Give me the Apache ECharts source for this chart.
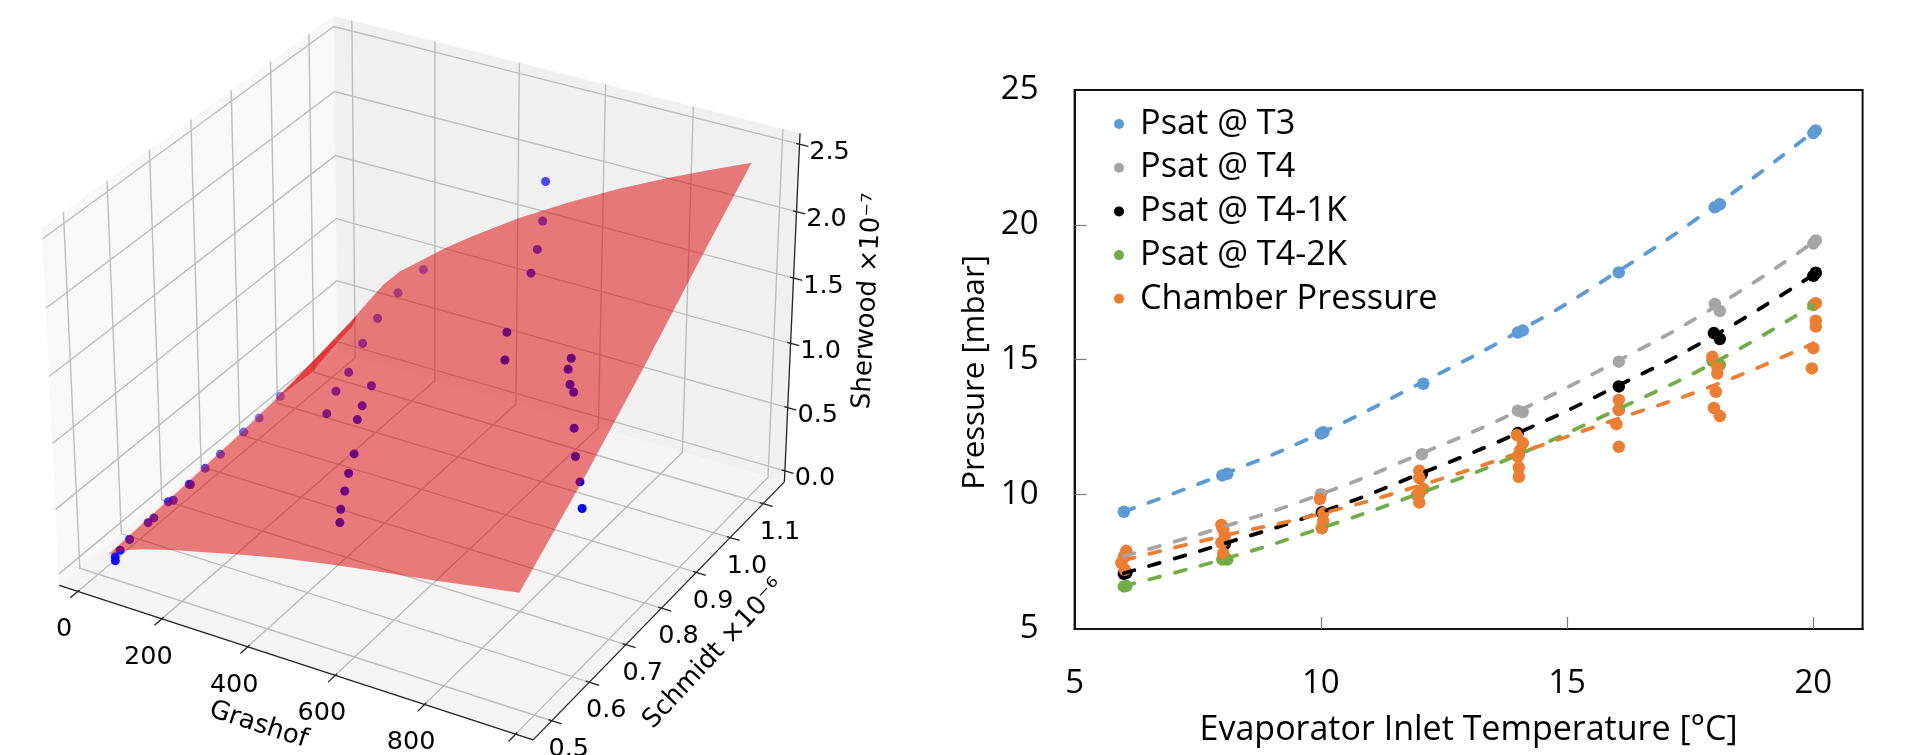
<!DOCTYPE html>
<html><head><meta charset="utf-8"><style>html,body{margin:0;background:#fff}#c{width:1915px;height:755px}</style>
<script src="https://cdn.jsdelivr.net/npm/echarts@6/dist/echarts.min.js"></script></head><body><div id="c"></div>
<script>
const evapT3=[[6,9.35],[8,10.7],[8.1,10.76],[10,12.25],[10.05,12.3],[12.08,14.1],[14,16],[14.1,16.08],[16.05,18.23],[18,20.65],[18.1,20.76],[20,23.4],[20.05,23.5]];
const evapT4=[[6,7.7],[8,8.78],[10,10],[12.05,11.48],[14,13.1],[14.1,13.05],[16.05,14.92],[18,17.06],[18.1,16.8],[20,19.3],[20.05,19.42]];
const evapT41=[[6,7.05],[6.05,7.08],[8.05,8.15],[10.02,9.33],[12.05,10.75],[14,12.27],[16.05,14],[17.98,15.98],[18.1,15.76],[20,18.1],[20.05,18.22]];
const evapT42=[[6,6.58],[6.05,6.6],[8,7.58],[8.1,7.58],[10.02,8.74],[12,10.03],[14.02,11.46],[16.05,13.13],[17.95,14.95],[18.1,14.8],[20,17.02]];
const evapChamber=[[6.05,7.9],[6,7.65],[5.95,7.45],[6.02,7.2],[7.98,8.86],[8.02,8.68],[8.05,8.45],[7.98,8.2],[8.02,7.8],[9.98,9.82],[10.05,9.3],[10.05,9.0],[10.02,8.75],[12,10.87],[12,10.6],[12.08,10.2],[11.95,9.97],[12,9.69],[13.98,12.2],[14.1,11.9],[14.05,11.64],[14,11.4],[14.02,11],[14.02,10.65],[16.05,13.5],[16.05,13.13],[16,12.6],[16.05,11.76],[17.95,15.1],[18.05,14.73],[18.05,14.48],[18.02,13.8],[17.98,13.2],[18.1,12.9],[20.05,17.09],[20.05,16.44],[20.05,16.22],[20,15.42],[19.97,14.67]];
const fitX=[6,8,10,12,14,16,18,20];
const fitT3=[9.35,10.73,12.27,14.1,16.03,18.23,20.7,23.45];
const fitT4=[7.7,8.78,10,11.48,13.08,14.92,16.95,19.35];
const fitT41=[7.07,8.15,9.33,10.75,12.27,14,15.9,18.15];
const fitT42=[6.6,7.58,8.74,10.03,11.46,13.13,14.9,17.02];
const fitChamber=[7.55,8.45,9.28,10.32,11.52,12.78,14.05,15.6];
const legendNames=['Psat @ T3','Psat @ T4','Psat @ T4-1K','Psat @ T4-2K','Chamber Pressure'];
const grashofTicks=[0,200,400,600,800,1000];
const grashofLabels=['0','200','400','600','800'];
const schmidtTicks=[0.5,0.6,0.7,0.8,0.9,1.0,1.1];
const sherwoodTicks=[0,0.5,1,1.5,2,2.5];
const gridGr=[40,85,125,165,205,270,335,450,565,680,790,880,975];
const gridSc=[0.487,0.664,0.811,0.956,1.109];
const gridSh=[
[.14,.224,.272,.31,.347,.40,.454,.54,.611,.675,.731,.782,.835],
[.18,.32,.40,.46,.51,.60,.67,.81,.92,1.02,1.10,1.18,1.25],
[.22,.405,.517,.605,.675,.785,.887,1.05,1.20,1.33,1.45,1.54,1.63],
[.28,.49,.63,.75,.83,.97,1.10,1.30,1.48,1.65,1.79,1.905,2.03],
[.375,.585,.763,.90,1.002,1.17,1.32,1.568,1.787,1.99,2.165,2.30,2.436]];
const foldEdge=[[40,.906,.26],[40,.999,.31],[40,1.062,.35],[40,1.128,.39],[40,1.114,.33],[40,1.072,.30],[40,1.004,.23]];
const samples=[[276,.846,.85],[248,.914,.88],[232,.972,.92],[228,1.032,.97],[254,1.072,1.08],[282,.806,.81],[304,.758,.78],[368,.804,.94],
[382,.764,.90],[396,.736,.88],[448,.670,.84],[466,.636,.80],[486,.604,.77],[504,.574,.73],[520,.554,.70],[526,1.084,1.67],
[562,1.026,1.62],[586,.980,1.57],[620,.874,1.41],[658,.824,1.36],[808,.822,1.52],[816,.804,1.49],[840,.780,1.46],[858,.768,1.45],
[902,.716,1.36],[938,.676,1.29],[976,.642,1.23],
[40,.503,.08],[40,.503,.05],[40,.515,.10],[40,.538,.12],[40,.583,.13],[40,.597,.13],[40,.633,.16],[40,.645,.14],[40,.685,.16],
[40,.688,.15],[40,.725,.18],[40,.764,.19],[40,.824,.21],[40,.864,.22],[40,.920,.25],
[511,1.109,1.90],[1000,.619,1.12]];
const xLim=[-44.4,1037.9],yLim=[0.4514,1.1657],zLim=[-0.088,2.58];
const view=[445.993757,308.964901,-19.3071182,59.2904125,115.749340,-200.951553,-367.769503,585.405783,-0.0522744499,0.0903107744,-0.0443847389];
const U=g=>(g-xLim[0])/(xLim[1]-xLim[0]),V=s=>(s-yLim[0])/(yLim[1]-yLim[0]),W=z=>(z-zLim[0])/(zLim[1]-zLim[0]);
const depth=(g,s,z)=>view[8]*U(g)+view[9]*V(s)+view[10]*W(z)+1;
function project(g,s,z){const u=U(g),v=V(s),w=W(z),p=view,d=depth(g,s,z);return [(p[0]*u+p[1]*v+p[2]*w+p[3])/d,(p[4]*u+p[5]*v+p[6]*w+p[7])/d];}
const F1='"Open Sans"',F2='"DejaVu Sans"';
const AX={xAxisIndex:1,yAxisIndex:1,coordinateSystem:'cartesian2d',silent:true,clip:false};
function segSeries(z,color,width,segs){return Object.assign({type:'custom',z,data:segs.map((_,i)=>[i]),renderItem:(p,api)=>{const pts=segs[p.dataIndex].map(a=>api.coord(project(a[0],a[1],a[2])));return {type:'polyline',shape:{points:pts},style:{stroke:color,lineWidth:width,fill:'none'}};}},AX);}
const polyOf=(api,list)=>list.map(a=>api.coord(project(a[0],a[1],a[2])));
const [x0,x1]=xLim,[y0,y1]=yLim,[z0,z1]=zLim;
const panes=[{c:'#f8f8f8',p:[[x0,y0,z0],[x0,y1,z0],[x0,y1,z1],[x0,y0,z1]]},{c:'#f0f0f0',p:[[x0,y1,z0],[x1,y1,z0],[x1,y1,z1],[x0,y1,z1]]},{c:'#f4f4f4',p:[[x0,y0,z0],[x1,y0,z0],[x1,y1,z0],[x0,y1,z0]]}];
const gridSegs=[];grashofTicks.forEach(g=>gridSegs.push([[g,y0,z0],[g,y1,z0],[g,y1,z1]]));schmidtTicks.forEach(s=>gridSegs.push([[x1,s,z0],[x0,s,z0],[x0,s,z1]]));sherwoodTicks.forEach(h=>gridSegs.push([[x0,y0,h],[x0,y1,h],[x1,y1,h]]));
const axisSegs=[[[x0,y0,z0],[x1,y0,z0]],[[x1,y0,z0],[x1,y1,z0]],[[x1,y1,z0],[x1,y1,z1]]];
const du=x1-x0,dv=y1-y0;
grashofTicks.forEach(g=>axisSegs.push([[g,y0+.006*dv,z0],[g,y0-.025*dv,z0]]));
schmidtTicks.forEach(s=>axisSegs.push([[x1-.007*du,s,z0],[x1+.02*du,s,z0]]));
sherwoodTicks.forEach(h=>axisSegs.push([[x1-.007*du,y1,h],[x1+.018*du,y1,h]]));
const texts=[];
grashofLabels.forEach((l,i)=>texts.push({t:l,a:[grashofTicks[i],y0-.012*dv,z0],dx:-10,dy:35}));
schmidtTicks.forEach(s=>texts.push({t:s.toFixed(1),a:[x1+.004*du,s,z0],dx:15,dy:28}));
sherwoodTicks.forEach(h=>texts.push({t:h.toFixed(1),a:[x1,y1,h],dx:30,dy:8}));
const titles=[{t:'Grashof',x:258.5,y:725,r:-18},{t:'Schmidt ×10⁻⁶',x:714,y:654,r:47},{t:'Sherwood ×10⁻⁷',x:868,y:301,r:87}];
const outline=()=>{const n=gridGr.length-1,m=gridSc.length-1,o=[];
 gridGr.forEach((g,j)=>o.push([g,gridSc[0],gridSh[0][j]]));
 for(let i=1;i<=m;i++)o.push([gridGr[n],gridSc[i],gridSh[i][n]]);
 for(let j=n-1;j>=0;j--)o.push([gridGr[j],gridSc[m],gridSh[m][j]]);
 for(let i=m-1;i>0;i--)o.push([gridGr[0],gridSc[i],gridSh[i][0]]);return o;};
const line=(n,y,c)=>({name:n,type:'line',z:4,data:fitX.map((x,i)=>[x,y[i]]),smooth:true,showSymbol:false,symbol:'none',lineStyle:{color:c,width:3.8,type:[11,15.5],cap:'round'},silent:true});
const dots=(n,d,c)=>({name:n,type:'scatter',z:3,data:d,symbol:'circle',symbolSize:12.5,itemStyle:{color:c,opacity:1}});
const C=['#5B9BD5','#A5A5A5','#000000','#70AD47','#ED7D31'];
const ax=(fs)=>({fontFamily:F1,fontSize:fs,color:'#000'});
const chart=echarts.init(document.getElementById('c'));
chart.setOption({animation:false,
grid:[{left:1074.6,top:90,width:788,height:539,show:true,borderColor:'#111',borderWidth:2,backgroundColor:'#fff'},{left:0,top:0,width:1915,height:755}],
legend:{data:legendNames,orient:'vertical',left:1109,top:101,icon:'circle',itemWidth:10,itemHeight:10,itemGap:7.7,textStyle:{fontFamily:F1,fontSize:34.3,lineHeight:36,color:'#000',padding:[0,0,0,11]}},
xAxis:[{min:5,max:21,interval:5,name:'Evaporator Inlet Temperature [°C]',nameLocation:'middle',nameGap:84.5,nameTextStyle:ax(34),axisLabel:Object.assign(ax(33),{margin:38,showMaxLabel:false}),splitLine:{show:false},axisLine:{lineStyle:{color:'#111',width:2}},axisTick:{inside:true,length:12,customValues:[10,15,20],lineStyle:{color:'#777',width:1.2}}},{gridIndex:1,min:0,max:1915,show:false}],
yAxis:[{min:5,max:25,interval:5,name:'Pressure [mbar]',nameLocation:'middle',nameGap:84,nameTextStyle:Object.assign(ax(31.2),{padding:[0,26,0,0]}),axisLabel:Object.assign(ax(33),{margin:36}),splitLine:{show:false},axisLine:{show:true,lineStyle:{color:'#111',width:2}},axisTick:{show:true,inside:true,length:12,customValues:[10,15,20],lineStyle:{color:'#777',width:1.2}}},{gridIndex:1,min:0,max:755,inverse:true,show:false}],
series:[
Object.assign({type:'custom',z:1,data:panes.map((_,i)=>[i]),renderItem:(p,api)=>({type:'polygon',shape:{points:polyOf(api,panes[p.dataIndex].p)},style:{fill:panes[p.dataIndex].c}})},AX),
segSeries(1.1,'#bdbdbd',1.4,gridSegs),
segSeries(1.2,'#222',1.3,axisSegs),
{name:'Samples',type:'scatter',xAxisIndex:1,yAxisIndex:1,z:1.5,symbol:'circle',symbolSize:9,silent:true,
 data:samples.map(a=>({value:project(a[0],a[1],a[2]),itemStyle:{color:'#0000ff',opacity:Math.max(.35,Math.min(1,1-(depth(a[0],a[1],a[2])-.99)*9))}}))},
Object.assign({type:'custom',z:2,data:[[0],[1]],renderItem:(p,api)=>({type:'polygon',shape:{points:polyOf(api,p.dataIndex?foldEdge:outline())},style:{fill:'rgba(222,0,0,0.5)'}})},AX),
Object.assign({type:'custom',z:5,data:texts.map((_,i)=>[i]),renderItem:(p,api)=>{const e=texts[p.dataIndex],q=api.coord(project(e.a[0],e.a[1],e.a[2]));return {type:'text',x:q[0]+e.dx,y:q[1]+e.dy,style:{text:e.t,fill:'#000',font:'25.5px '+F2,align:'center',verticalAlign:'middle'}};}},AX),
Object.assign({type:'custom',z:5,data:titles.map((_,i)=>[i]),renderItem:(p,api)=>{const e=titles[p.dataIndex],q=api.coord([e.x,e.y]);return {type:'text',x:q[0],y:q[1],rotation:e.r*Math.PI/180,style:{text:e.t,fill:'#000',font:'26px '+F2,align:'center',verticalAlign:'middle'}};}},AX),
dots(legendNames[0],evapT3,C[0]),dots(legendNames[1],evapT4,C[1]),dots(legendNames[2],evapT41,C[2]),dots(legendNames[3],evapT42,C[3]),dots(legendNames[4],evapChamber,C[4]),
line('fit T3',fitT3,C[0]),line('fit T4',fitT4,C[1]),line('fit T4-1K',fitT41,C[2]),line('fit T4-2K',fitT42,C[3]),line('fit Chamber',fitChamber,C[4])
]});
</script></body></html>
